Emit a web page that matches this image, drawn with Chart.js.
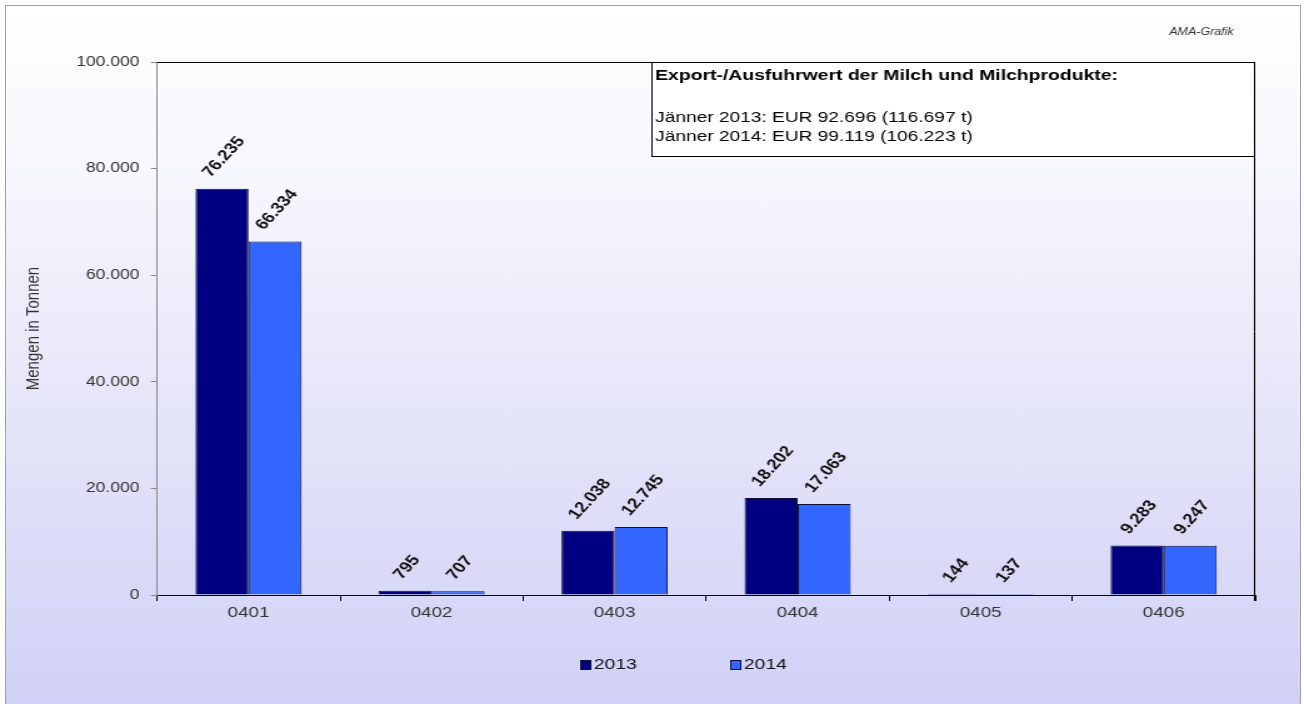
<!DOCTYPE html>
<html>
<head>
<meta charset="utf-8">
<script src="https://cdn.jsdelivr.net/npm/chart.js@4/dist/chart.umd.min.js"></script>
<style>
  html, body { margin: 0; padding: 0; background: #fff; overflow: hidden; }
  #wrap { position: relative; width: 1304px; height: 704px; }
  #bg {
    position: absolute; left: 5px; top: 5px; width: 1294px; height: 700px;
    border: 1px solid #a0a0a0;
    background: linear-gradient(to bottom, #ffffff 0%, #f6f6fd 25%, #e4e4f9 60%, #d0d0f6 100%);
  }
  /* the original picture is stretched sideways, so the chart is drawn narrow and widened */
  #myChart { position: absolute; left: 0; top: 0; transform: scaleX(1.2502); transform-origin: 0 0; }
</style>
</head>
<body>
<div id="wrap">
  <div id="bg"></div>
  <canvas id="myChart" width="1043" height="704"></canvas>
</div>
<script>
const FONT = 'Arial, "Liberation Sans", sans-serif';

const labels = ['0401', '0402', '0403', '0404', '0405', '0406'];
const values2013 = [76235, 795, 12038, 18202, 144, 9283];
const values2014 = [66334, 707, 12745, 17063, 137, 9247];
const yTicks = [0, 20000, 40000, 60000, 80000, 100000];

const boxTitle = 'Export-/Ausfuhrwert der Milch und Milchprodukte:';
const boxLines = [
  'Jänner 2013: EUR 92.696 (116.697 t)',
  'Jänner 2014: EUR 99.119 (106.223 t)'
];
const sourceNote = 'AMA-Grafik';

// 76235 -> "76.235"
function fmt(v) {
  return String(v).replace(/\B(?=(\d{3})+(?!\d))/g, '.');
}

const y2013 = {
  label: '2013',
  backgroundColor: '#000080',
  borderColor: '#10103a',
  borderWidth: 1,
  minBarLength: 1,
  data: values2013,
};

const y2014 = {
  label: '2014',
  backgroundColor: '#3366ff',
  borderColor: '#10103a',
  borderWidth: 1,
  minBarLength: 1,
  data: values2014,
};

// rotated numbers above the bars
const valueLabels = {
  id: 'valueLabels',
  afterDatasetsDraw(chart) {
    const ctx = chart.ctx;
    const ang = 53 * Math.PI / 180;
    ctx.save();
    ctx.font = 'bold 15px ' + FONT;
    ctx.fillStyle = '#111';
    ctx.textAlign = 'center';
    ctx.textBaseline = 'middle';
    chart.data.datasets.forEach((ds, i) => {
      chart.getDatasetMeta(i).data.forEach((bar, j) => {
        const txt = fmt(ds.data[j]);
        const w = ctx.measureText(txt).width;
        const half = (w * Math.sin(ang) + 11 * Math.cos(ang)) / 2;
        ctx.save();
        ctx.translate(bar.x + 1.5, bar.y - 10 - half);
        ctx.rotate(-ang);
        ctx.fillText(txt, 0, 0);
        ctx.restore();
      });
    });
    ctx.restore();
  }
};

// frame lines, info box, source note and legend
const extras = {
  id: 'extras',
  afterDraw(chart) {
    const ctx = chart.ctx;
    const a = chart.chartArea;
    ctx.save();

    ctx.strokeStyle = '#000';
    ctx.lineWidth = 1;
    ctx.beginPath();
    ctx.moveTo(a.left, a.top + 0.5);
    ctx.lineTo(a.right, a.top + 0.5);
    ctx.moveTo(a.right - 0.5, a.top);
    ctx.lineTo(a.right - 0.5, a.bottom + 6);
    ctx.stroke();

    // info box
    const bw = 483, bh = 94;
    const bx = a.right - bw;
    const by = a.top;
    ctx.fillStyle = '#ffffff';
    ctx.fillRect(bx, by, bw, bh);
    ctx.strokeRect(bx + 0.5, by + 0.5, bw - 1, bh);
    ctx.fillStyle = '#000';
    ctx.textAlign = 'left';
    ctx.textBaseline = 'middle';
    ctx.font = 'bold 15.5px ' + FONT;
    ctx.fillText(boxTitle, bx + 3, by + 14);
    ctx.font = '15.3px ' + FONT;
    boxLines.forEach((t, i) => ctx.fillText(t, bx + 3, by + 56 + i * 19));

    // source note
    ctx.font = 'italic 10px ' + FONT;
    ctx.fillStyle = '#333';
    ctx.textAlign = 'center';
    ctx.fillText(sourceNote, 961, 32);

    // legend
    ctx.font = '15.5px ' + FONT;
    ctx.textAlign = 'left';
    chart.data.datasets.forEach((ds, i) => {
      const x = 464 + i * 120;
      const y = 665;
      ctx.fillStyle = ds.backgroundColor;
      ctx.fillRect(x, y - 5, 9, 10);
      ctx.strokeStyle = '#10103a';
      ctx.strokeRect(x + 0.5, y - 4.5, 8, 9);
      ctx.fillStyle = '#111';
      ctx.fillText(ds.label, x + 11, y);
    });
    ctx.restore();
  }
};

const data = {
  labels: labels,
  datasets: [y2013, y2014]
};

const config = {
  type: 'bar',
  data: data,
  options: {
    responsive: false,
    animation: false,
    layout: { padding: { left: 14, right: 39, top: 62, bottom: 69 } },
    datasets: {
      bar: { categoryPercentage: 0.58, barPercentage: 1.0 }
    },
    plugins: {
      legend: { display: false },
      tooltip: { enabled: false }
    },
    scales: {
      x: {
        grid: { drawOnChartArea: false, offset: true, tickLength: 6, color: '#000' },
        border: { color: '#000', width: 1 },
        ticks: { color: '#333', padding: 3, font: { family: FONT, size: 15 } },
        afterFit(scale) { scale.height = 40; }
      },
      y: {
        min: 0,
        max: 100000,
        afterBuildTicks(scale) { scale.ticks = yTicks.map(v => ({ value: v })); },
        grid: { drawOnChartArea: false, tickLength: 5, color: '#888' },
        border: { color: '#888', width: 1 },
        ticks: {
          color: '#333',
          padding: 9,
          font: { family: FONT, size: 14 },
          callback: (v) => fmt(v)
        },
        title: {
          display: true,
          text: 'Mengen in Tonnen',
          color: '#333',
          font: { family: FONT, size: 15 }
        },
        afterFit(scale) { scale.width = 111.6; }
      }
    }
  },
  plugins: [valueLabels, extras]
};

const myChart = new Chart(
  document.getElementById('myChart'),
  config
);
</script>
</body>
</html>
